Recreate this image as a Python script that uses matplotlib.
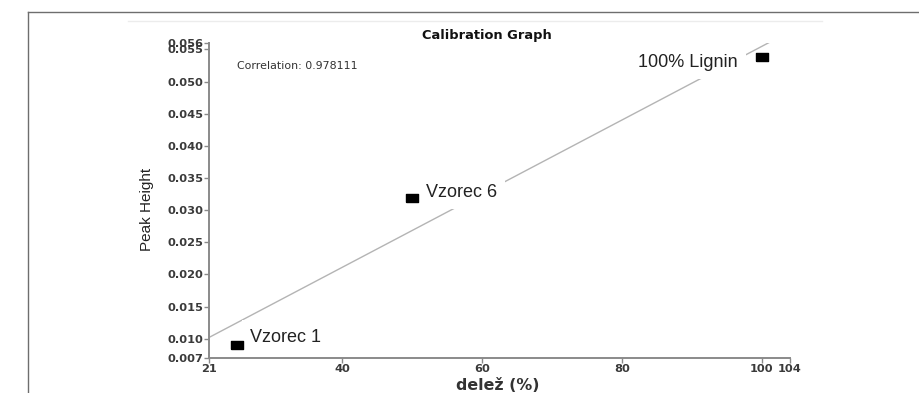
import numpy as np
import matplotlib
matplotlib.use("Agg")
import matplotlib.pyplot as plt
from matplotlib.lines import Line2D

# ---- data ----
sample_names = ["Vzorec 1", "Vzorec 6", "100% Lignin"]
share_pct = [25, 50, 100]
peak_height = [0.0091, 0.0319, 0.0538]
fit_range = [21, 101]
xticks = [21, 40, 60, 80, 100, 104]
xtick_labels = ["21", "40", "60", "80", "100", "104"]
yticks = [0.007, 0.010, 0.015, 0.020, 0.025, 0.030, 0.035, 0.040, 0.045, 0.050, 0.055, 0.056]
ytick_labels = ["0.007", "0.010", "0.015", "0.020", "0.025", "0.030", "0.035",
                "0.040", "0.045", "0.050", "0.055", "0.056"]
title = "Calibration Graph"
corr_text = "Correlation: 0.978111"
xlabel = "delež (%)"
ylabel = "Peak Height"

W, H = 919, 393
fig = plt.figure(figsize=(W / 100, H / 100), dpi=100)
fig.patch.set_facecolor("white")

def fx(px):
    return px / W

def fy(py):
    return 1 - py / H

# outer frame lines
fig.add_artist(Line2D([fx(28), 1.0], [fy(12), fy(12)], color="#6e6e6e", lw=1.0))
fig.add_artist(Line2D([fx(28), fx(28)], [fy(12), 0.0], color="#6e6e6e", lw=1.0))
fig.add_artist(Line2D([fx(128), fx(822)], [fy(21), fy(21)], color="#ececec", lw=1.0))

ax = fig.add_axes([fx(209), fy(358), (790 - 209) / W, (358 - 43) / H])
ax.set_xlim(21, 104)
ax.set_ylim(0.007, 0.056)

for s in ["top", "right"]:
    ax.spines[s].set_visible(False)
for s in ["left", "bottom"]:
    ax.spines[s].set_color("#8a8a8a")
    ax.spines[s].set_linewidth(1.4)

ax.set_xticks(xticks)
ax.set_xticklabels(xtick_labels)
ax.set_yticks(yticks)
ax.set_yticklabels(ytick_labels)
ax.tick_params(axis="both", direction="out", length=3.5, width=1.0, color="#8a8a8a",
               labelsize=8.2, labelcolor="#3a3a3a", pad=0.5)
for lab in ax.get_xticklabels() + ax.get_yticklabels():
    lab.set_fontfamily("DejaVu Sans")
    lab.set_fontweight("bold")

# regression line
coef = np.polyfit(share_pct, peak_height, 1)
fx_line = np.array(fit_range, dtype=float)
ax.plot(fx_line, np.polyval(coef, fx_line), color="#b4b4b4", lw=1.0, zorder=1)

# markers (rectangular)
rect = [(-1, -0.72), (1, -0.72), (1, 0.72), (-1, 0.72), (-1, -0.72)]
ax.plot(share_pct, peak_height, linestyle="none", marker=rect, markersize=8.6,
        color="black", zorder=4)

offsets = [(13, 3, "left"), (14, 1, "left"), (-24, -10, "right")]
for name, x, y, (ox, oy, ha) in zip(sample_names, share_pct, peak_height, offsets):
    ax.annotate(name, (x, y), xytext=(ox, oy), textcoords="offset pixels",
                ha=ha, va="baseline", fontsize=13, family="Liberation Sans",
                color="#222222", zorder=3,
                bbox=dict(boxstyle="square,pad=0.45", fc="white", ec="none"))

fig.text(fx(486.5), fy(36), title, ha="center", va="center", fontsize=9.4,
         fontweight="bold", family="DejaVu Sans", color="#111111")
fig.text(fx(237), fy(66), corr_text, ha="left", va="center", fontsize=7.9,
         family="DejaVu Sans", color="#333333")
fig.text(fx(498), fy(385), xlabel, ha="center", va="center", fontsize=11.4,
         fontweight="bold", family="DejaVu Sans", color="#333333")
fig.text(fx(147), fy(209), ylabel, ha="center", va="center", rotation=90,
         fontsize=11, family="Liberation Sans", color="#222222")

fig.savefig("out.png", dpi=100, facecolor="white")
